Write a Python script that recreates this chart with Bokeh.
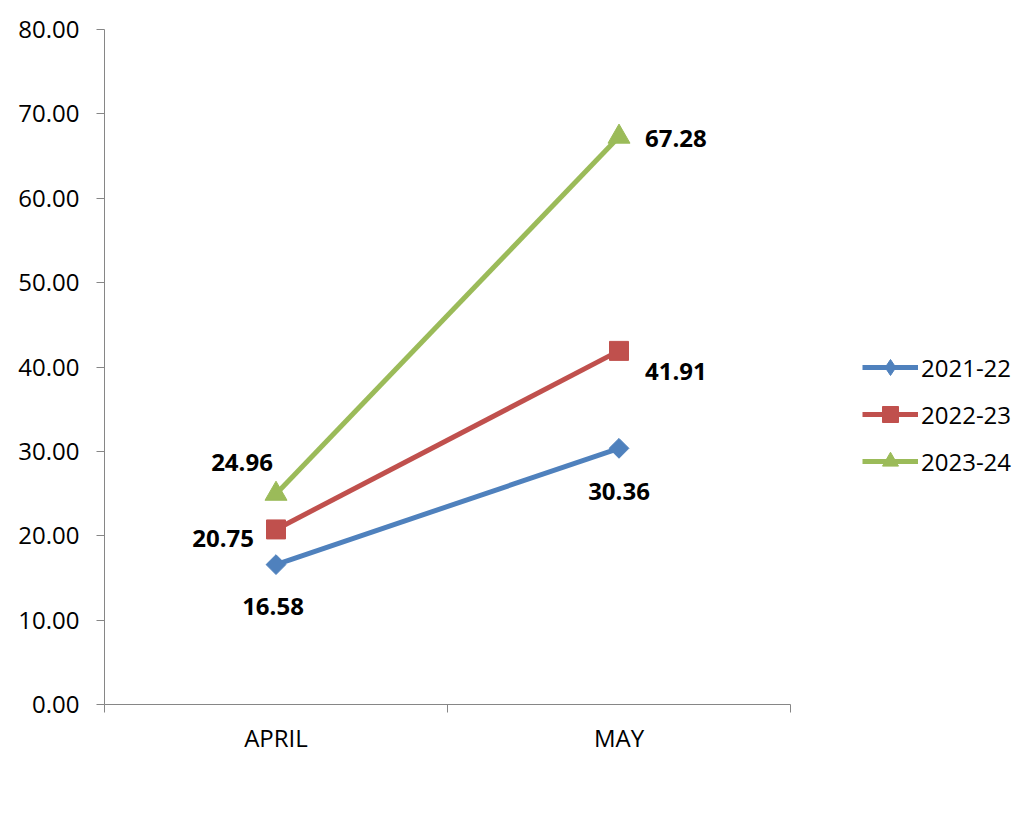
import numpy as np
from bokeh.plotting import figure
from bokeh.models import (Range1d, FixedTicker, NumeralTickFormatter, Legend,
                          LegendItem, ColumnDataSource)
from bokeh.core.properties import value
from bokeh.embed import file_html
from bokeh.resources import INLINE

# ---- data ----
months = ["APRIL", "MAY"]
series_names = ["2021-22", "2022-23", "2023-24"]
values_2021_22 = [16.58, 30.36]
values_2022_23 = [20.75, 41.91]
values_2023_24 = [24.96, 67.28]
y_ticks = [0, 10, 20, 30, 40, 50, 60, 70, 80]

series_values = [values_2021_22, values_2022_23, values_2023_24]

# ---- styles ----
FONT = "Open Sans"
FS = "24px"
colors = ["#4F81BD", "#C0504D", "#9BBB59"]
# (plot marker, size, angle, legend marker)
markers = [("square", 14, np.pi / 4, "diamond"),
           ("square", 19, 0.0, None),
           ("triangle", 22, 0.0, None)]
# label placement per series/point: (anchor, dx, dy) in screen px
label_place = [
    [("center", -3, 42), ("center", 0, 43)],
    [("right", -22, 9), ("left", 26, 21)],
    [("center", -34, -31), ("left", 26, 2)],
]
axis_color = "#868686"

W, H = 1030, 816
LEFT, TOP, BOTTOM = 104, 29, 112
AXIS_RIGHT = 790  # pixel where the category axis ends
n = len(months)
x_end = n * (W - LEFT) / (AXIS_RIGHT - LEFT)

p = figure(width=W, height=H, output_backend="svg", toolbar_location=None,
           x_range=Range1d(0, x_end), y_range=Range1d(0, 80),
           min_border_left=LEFT, min_border_right=0, min_border_top=TOP,
           min_border_bottom=BOTTOM)
p.background_fill_color = "white"
p.border_fill_color = "white"
p.outline_line_color = None
p.xgrid.visible = False
p.ygrid.visible = False

xs = [i + 0.5 for i in range(n)]

items = []
for name, vals, col, (mk, sz, ang, lmk), places in zip(series_names, series_values,
                                                        colors, markers, label_place):
    src = ColumnDataSource(dict(
        x=xs, y=vals,
        txt=["%.2f" % v for v in vals],
        align=[pl[0] for pl in places],
        dx=[pl[1] for pl in places],
        dy=[pl[2] for pl in places],
    ))
    lr = p.line("x", "y", source=src, line_color=col, line_width=5)
    sr = p.scatter("x", "y", source=src, marker=mk, size=sz, angle=ang,
                   fill_color=col, line_color=col)
    p.text("x", "y", text="txt", source=src, text_align="align",
           text_baseline="middle", x_offset="dx", y_offset="dy",
           text_font=value(FONT), text_font_style="bold",
           text_font_size=FS, text_color="black")
    rends = [lr, sr]
    if lmk is not None:
        leg_r = p.scatter("x", "y", source=src, marker=lmk, size=sz,
                          fill_color=col, line_color=col, visible=False)
        rends = [lr, leg_r]
    items.append(LegendItem(label=name, renderers=rends))

# y axis
yax = p.yaxis[0]
yax.ticker = FixedTicker(ticks=y_ticks, minor_ticks=[])
yax.formatter = NumeralTickFormatter(format="0.00")
yax.axis_line_color = axis_color
yax.major_tick_line_color = axis_color
yax.major_tick_out = 8
yax.major_tick_in = 0
yax.major_label_standoff = 17
yax.major_label_text_font = FONT
yax.major_label_text_font_size = FS
yax.major_label_text_color = "black"

# x axis: labels at category centres, tick marks at boundaries
xax = p.xaxis[0]
xax.bounds = (0, n)
xax.ticker = FixedTicker(ticks=xs, minor_ticks=list(range(n + 1)))
xax.major_label_overrides = {x: m for x, m in zip(xs, months)}
xax.axis_line_color = axis_color
xax.major_tick_line_color = None
xax.major_tick_out = 0
xax.major_tick_in = 0
xax.minor_tick_line_color = axis_color
xax.minor_tick_out = 8
xax.minor_tick_in = 0
xax.major_label_standoff = 8
xax.major_label_text_font = FONT
xax.major_label_text_font_size = FS
xax.major_label_text_color = "black"

legend = Legend(items=items, location=(862 - LEFT, 223), padding=0, margin=0,
                border_line_color=None, background_fill_alpha=0,
                inactive_fill_alpha=0,
                glyph_width=56, glyph_height=40, label_height=40, spacing=7,
                label_standoff=3, label_text_font=FONT,
                label_text_font_size=FS, label_text_color="black")
p.add_layout(legend, "center")

open("out.html", "w").write(file_html(p, INLINE))
